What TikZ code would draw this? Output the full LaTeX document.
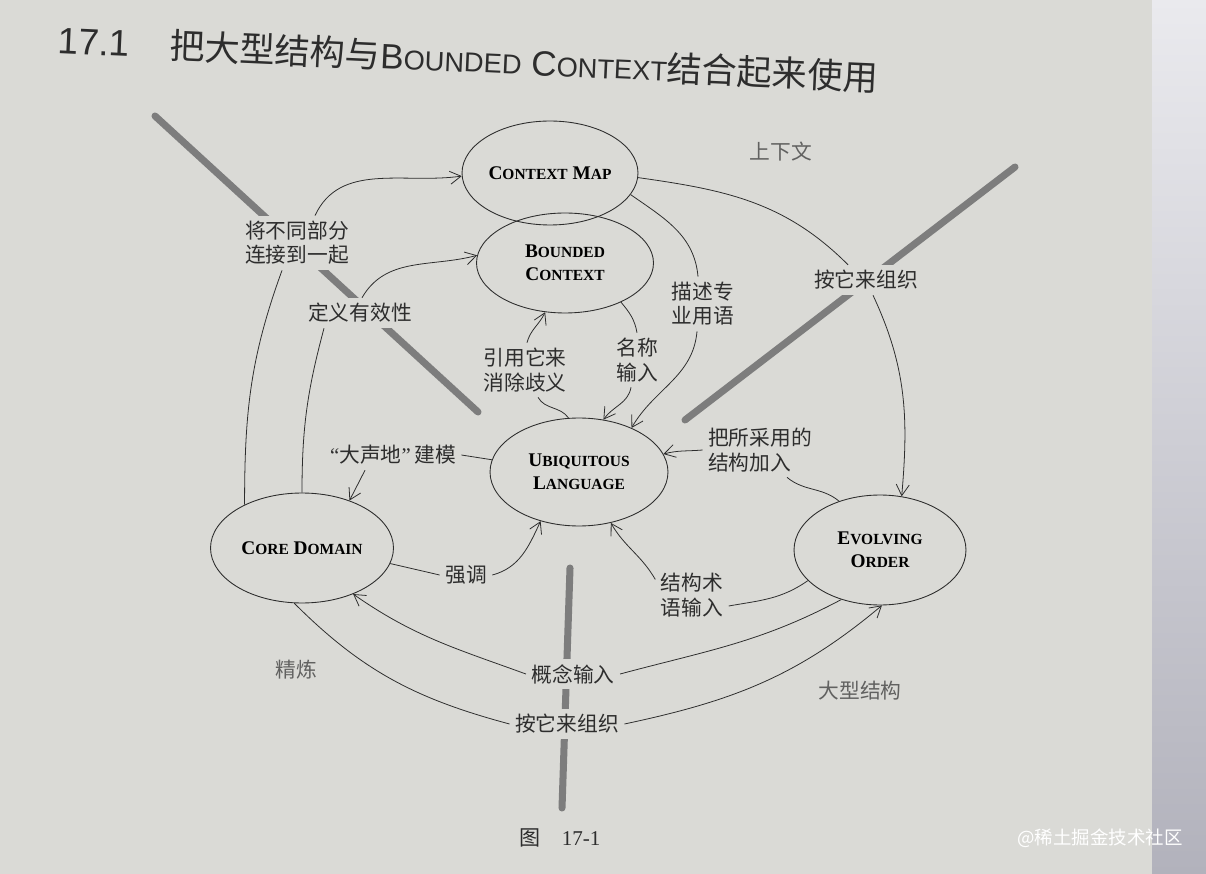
\documentclass[tikz,border=0pt]{standalone}
\usepackage{fontspec}
\setmainfont{Liberation Serif}
\newfontfamily\cjk{Noto Sans CJK SC}
\newfontfamily\headsans{Liberation Sans}
\usetikzlibrary{shapes.geometric, arrows.meta, positioning, calc}
\definecolor{paper}{RGB}{218,218,214}
\definecolor{ink}{RGB}{45,45,45}
\definecolor{bar}{RGB}{125,125,125}
\definecolor{edgetop}{RGB}{234,234,238}
\definecolor{edgebottom}{RGB}{178,178,188}
\newcommand{\scx}[1]{{\fontsize{8.8pt}{10pt}\selectfont #1}}
\newcommand{\tsc}[1]{{\fontsize{15.5pt}{18pt}\selectfont #1}}
\newcommand{\labelfont}{\cjk\fontsize{11.8pt}{13.8pt}\selectfont}

\begin{document}
\begin{tikzpicture}[x=0.02cm, y=0.02cm,
    bubble/.style={ellipse, draw=ink, line width=0.5pt, inner sep=0pt, align=center, text=black, font=\bfseries\fontsize{11pt}{13pt}\selectfont},
    lbl/.style={fill=paper, align=center, inner sep=3pt, text=ink, font=\labelfont},
    region/.style={lbl, text=ink!70!paper},
    link/.style={draw=ink, line width=0.45pt},
    arr/.style={link, -{Straight Barb[length=2.2mm, width=2.6mm]}},
    divider/.style={draw=bar, line width=4pt, line cap=round}
]
\useasboundingbox (0,0) rectangle (1206,-874);
\fill[paper] (0,0) rectangle (1206,-874);
\shade[top color=edgetop, bottom color=edgebottom] (1152,0) rectangle (1206,-874);

\draw[divider] (155,-116) -- (478,-412);
\draw[divider] (1015,-167) -- (685,-420);
\draw[divider] (570,-568) -- (562,-808);

\node[anchor=west, rotate=-2.6, text=ink] (title) at (52,-40) {{\headsans\fontsize{21pt}{24pt}\selectfont 17.1}\hspace{0.8cm}{\cjk\fontsize{20pt}{24pt}\selectfont 把大型结构与}{\headsans\fontsize{20pt}{24pt}\selectfont B\tsc{OUNDED} C\tsc{ONTEXT}}{\cjk\fontsize{20pt}{24pt}\selectfont 结合起来使用}};

\node[bubble, minimum width=3.52cm, minimum height=2.08cm] (ctxmap) at (550,-173) {C\scx{ONTEXT} M\scx{AP}};
\node[bubble, minimum width=3.54cm, minimum height=2.0cm] (bounded) at (565,-263) {B\scx{OUNDED}\\C\scx{ONTEXT}};
\node[bubble, minimum width=3.56cm, minimum height=2.16cm] (ubiq) at (579,-472) {U\scx{BIQUITOUS}\\L\scx{ANGUAGE}};
\node[bubble, minimum width=3.66cm, minimum height=2.2cm] (core) at (302,-548) {C\scx{ORE} D\scx{OMAIN}};
\node[bubble, minimum width=3.44cm, minimum height=2.2cm] (evolve) at (880,-550) {E\scx{VOLVING}\\O\scx{RDER}};

\node[region] (lblCtx) at (781,-152) {上下文};
\node[lbl] (lblLink) at (297,-243) {将不同部分\\连接到一起};
\node[lbl] (lblValid) at (360,-313) {定义有效性};
\node[lbl] (lblDescribe) at (703,-304) {描述专\\业用语};
\node[lbl] (lblOrgTop) at (866,-280) {按它来组织};
\node[lbl] (lblDisamb) at (525,-370) {引用它来\\消除歧义};
\node[lbl] (lblNames) at (637,-360) {名称\\输入};
\node[lbl, align=left] (lblAdd) at (760,-450) {把所采用的\\结构加入};
\node[lbl] (lblLoud) at (393,-455) {{\rmfamily “}大声地{\rmfamily ”}\,建模};
\node[lbl] (lblStress) at (466,-575) {强调};
\node[lbl] (lblTerms) at (692,-595) {结构术\\语输入};
\node[region] (lblDistill) at (296,-670) {精炼};
\node[lbl] (lblConcept) at (573,-674) {概念输入};
\node[lbl] (lblOrgBottom) at (567,-724) {按它来组织};
\node[region] (lblLarge) at (860,-691) {大型结构};

\draw[link] (core.143) to[out=90, in=-110] ([xshift=-0.3cm]lblLink.south);
\draw[arr] ([xshift=0.36cm]lblLink.north) to[out=65, in=188] (ctxmap.182);
\draw[link] (core.north) to[out=90, in=-105] ([xshift=-0.72cm]lblValid.south);
\draw[arr] ([xshift=0.04cm]lblValid.north) to[out=60, in=195] (bounded.175);
\draw[link] (ubiq.101) to[out=125, in=-60] ([xshift=0.26cm]lblDisamb.south);
\draw[arr] ([xshift=0.04cm]lblDisamb.north) to[out=75, in=-115] (bounded.248);
\draw[link] (bounded.-35) to[out=-50, in=100] (lblNames.north);
\draw[arr] ([xshift=-0.12cm]lblNames.south) to[out=-100, in=55] (ubiq.65);
\draw[link] (ctxmap.-15) to[out=-35, in=95] ([xshift=-0.1cm]lblDescribe.north);
\draw[arr] ([xshift=-0.12cm]lblDescribe.south) to[out=-95, in=60] (ubiq.40);
\draw[link] (ctxmap.-3) to[out=-8, in=135] ([xshift=-0.36cm]lblOrgTop.north);
\draw[arr] ([xshift=0.14cm]lblOrgTop.south) to[out=-65, in=85] (evolve.68);
\draw[link] (evolve.130) to[out=140, in=-40] ([xshift=0.54cm]lblAdd.south);
\draw[arr] (lblAdd.west) to[out=185, in=15] (ubiq.12);
\draw[link] (ubiq.172) -- (lblLoud.east);
\draw[arr] ([xshift=-0.56cm]lblLoud.south) -- (core.45);
\draw[link] (core.-10) -- (lblStress.west);
\draw[arr] (lblStress.east) to[out=15, in=-115] (ubiq.232);
\draw[link] (evolve.203) to[out=215, in=10] ([yshift=-0.22cm]lblTerms.east);
\draw[arr] (lblTerms.157) to[out=120, in=-60] (ubiq.-58);
\draw[link] (evolve.232) to[out=208, in=15] (lblConcept.east);
\draw[arr] (lblConcept.west) to[out=160, in=-35] (core.-42);
\draw[link] (core.262) to[out=-45, in=165] (lblOrgBottom.west);
\draw[arr] (lblOrgBottom.east) to[out=12, in=-140] (evolve.272);

\node[text=ink, font=\fontsize{12pt}{14pt}\selectfont] (caption) at (560,-838) {{\cjk 图}\quad 17-1};
\node[text=white, font=\cjk\fontsize{10.5pt}{12pt}\selectfont] (watermark) at (1100,-838) {@稀土掘金技术社区};
\end{tikzpicture}
\end{document}
